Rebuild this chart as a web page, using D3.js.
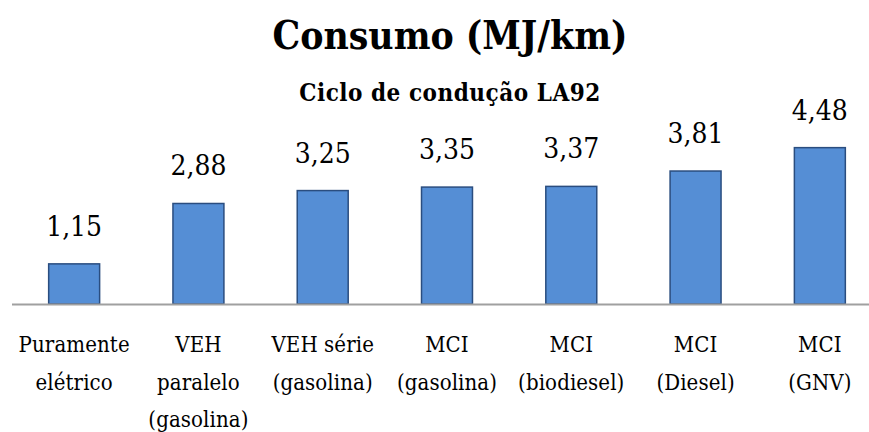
<!DOCTYPE html>
<html>
<head>
<meta charset="utf-8">
<script src="https://cdn.jsdelivr.net/npm/d3@7"></script>
<style>
  html, body { margin: 0; padding: 0; background: #fff; }
  svg { display: block; }
</style>
</head>
<body>
<svg id="chart" width="869" height="432"></svg>
<script>
const title = "Consumo (MJ/km)";
const subtitle = "Ciclo de condução LA92";
const categories = [
  ["Puramente", "elétrico"],
  ["VEH", "paralelo", "(gasolina)"],
  ["VEH série", "(gasolina)"],
  ["MCI", "(gasolina)"],
  ["MCI", "(biodiesel)"],
  ["MCI", "(Diesel)"],
  ["MCI", "(GNV)"]
];
const values = [1.15, 2.88, 3.25, 3.35, 3.37, 3.81, 4.48];
const valueLabels = ["1,15", "2,88", "3,25", "3,35", "3,37", "3,81", "4,48"];

const FONT = "'DejaVu Serif Condensed', 'DejaVu Serif', 'Noto Serif', serif";
const svg = d3.select("#chart");
const W = 869, H = 432;
const baseY = 304;

// fit a text style so a sample string reaches a target width
function fitStyle(sample, maxSize, weight, targetW) {
  const t = svg.append("text").attr("font-family", FONT)
    .attr("font-size", maxSize).attr("font-weight", weight).text(sample);
  const w = t.node().getComputedTextLength();
  t.remove();
  if (w > targetW) return { size: maxSize * targetW / w, ls: 0 };
  return { size: maxSize, ls: (targetW - w) / (sample.length - 1) };
}

const x = d3.scaleBand()
  .domain(d3.range(categories.length))
  .range([12, 882])
  .paddingInner(0.59)
  .paddingOuter(0.295);

const y = d3.scaleLinear().domain([0, 5]).range([baseY, baseY - 174.5]);

const sT = fitStyle(title, 42, "bold", 355);
svg.append("text")
  .attr("x", 450).attr("y", 49)
  .attr("text-anchor", "middle")
  .attr("font-family", FONT)
  .attr("font-size", sT.size).attr("font-weight", "bold")
  .attr("letter-spacing", sT.ls)
  .text(title);

const sS = fitStyle(subtitle, 24, "bold", 301);
svg.append("text")
  .attr("x", 450).attr("y", 101)
  .attr("text-anchor", "middle")
  .attr("font-family", FONT)
  .attr("font-size", sS.size).attr("font-weight", "bold")
  .attr("letter-spacing", sS.ls)
  .text(subtitle);

svg.append("g").selectAll("rect")
  .data(values)
  .join("rect")
  .attr("x", (d, i) => x(i))
  .attr("width", x.bandwidth())
  .attr("y", d => y(d))
  .attr("height", d => y(0) - y(d))
  .attr("fill", "#558ED5")
  .attr("stroke", "#2A4D7F")
  .attr("stroke-width", 1.5);

svg.append("line")
  .attr("x1", 12).attr("x2", W)
  .attr("y1", baseY + 0.5).attr("y2", baseY + 0.5)
  .attr("stroke", "#A0A0A0").attr("stroke-width", 1.8);

const sV = fitStyle("3,81", 30, "normal", 56);
svg.append("g").selectAll("text")
  .data(values)
  .join("text")
  .attr("x", (d, i) => x(i) + x.bandwidth() / 2)
  .attr("y", d => y(d) - 28)
  .attr("text-anchor", "middle")
  .attr("font-family", FONT)
  .attr("font-size", sV.size)
  .attr("letter-spacing", sV.ls)
  .text((d, i) => valueLabels[i]);

const sC = fitStyle("Puramente", 22, "normal", 111);
const catG = svg.append("g");
categories.forEach((lines, i) => {
  const t = catG.append("text")
    .attr("text-anchor", "middle")
    .attr("font-family", FONT)
    .attr("font-size", sC.size)
    .attr("letter-spacing", sC.ls);
  lines.forEach((ln, j) => {
    t.append("tspan")
      .attr("x", x(i) + x.bandwidth() / 2)
      .attr("y", 352 + j * 37.5)
      .text(ln);
  });
});
</script>
</body>
</html>
